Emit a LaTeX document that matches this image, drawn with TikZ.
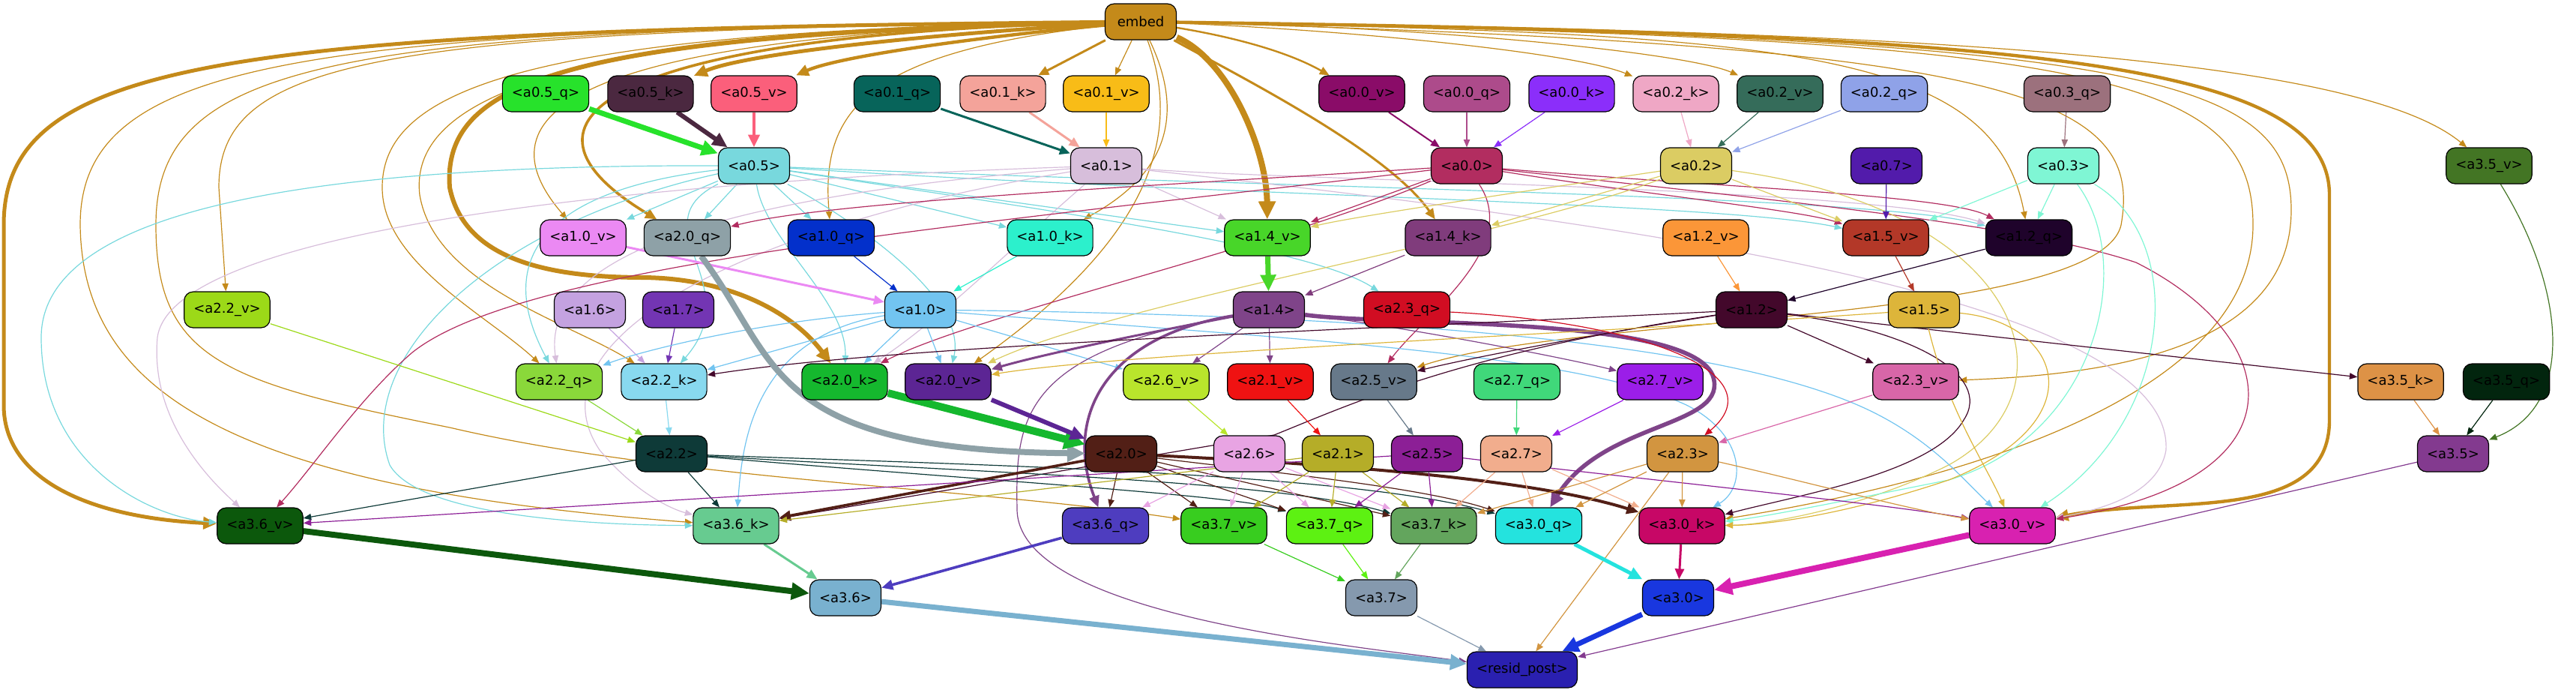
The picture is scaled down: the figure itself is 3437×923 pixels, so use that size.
\documentclass[tikz,border=0pt]{standalone}
\usepackage{fontspec}
\setmainfont{DejaVu Sans}
\usetikzlibrary{arrows.meta}
% Couleurs des noeuds
\definecolor{cembed}{HTML}{C48A1A}
\definecolor{ca05q}{HTML}{27E22B}\definecolor{ca05k}{HTML}{4B2840}\definecolor{ca05v}{HTML}{FB5F7B}
\definecolor{ca01q}{HTML}{07645A}\definecolor{ca01k}{HTML}{F4A39A}\definecolor{ca01v}{HTML}{F8BC17}
\definecolor{ca00v}{HTML}{8A0C68}\definecolor{ca00q}{HTML}{AD4B8B}\definecolor{ca00k}{HTML}{8B2EFA}
\definecolor{ca02k}{HTML}{EFA7C5}\definecolor{ca02v}{HTML}{356C5A}\definecolor{ca02q}{HTML}{8FA2E8}
\definecolor{ca03q}{HTML}{9C717D}
\definecolor{ca05}{HTML}{78D8DD}\definecolor{ca01}{HTML}{D7BEDB}\definecolor{ca00}{HTML}{B22D60}
\definecolor{ca02}{HTML}{DBCC63}\definecolor{ca07}{HTML}{521BAB}\definecolor{ca03}{HTML}{7FF6D4}
\definecolor{ca35v}{HTML}{437524}
\definecolor{ca10v}{HTML}{EB89F3}\definecolor{ca20q}{HTML}{8EA1A7}\definecolor{ca10q}{HTML}{0330CB}
\definecolor{ca10k}{HTML}{2CF0CC}\definecolor{ca14v}{HTML}{48D629}\definecolor{ca14k}{HTML}{803C7C}
\definecolor{ca12v}{HTML}{FB9638}\definecolor{ca15v}{HTML}{B33828}\definecolor{ca12q}{HTML}{1F032B}
\definecolor{ca22v}{HTML}{9CD918}\definecolor{ca16}{HTML}{C4A2E0}\definecolor{ca17}{HTML}{7335B3}
\definecolor{ca10}{HTML}{72C4F0}\definecolor{ca14}{HTML}{7F4489}\definecolor{ca23q}{HTML}{D10D22}
\definecolor{ca12}{HTML}{43082B}\definecolor{ca15}{HTML}{DDB53A}
\definecolor{ca22q}{HTML}{8AD83A}\definecolor{ca22k}{HTML}{88D9EF}\definecolor{ca20k}{HTML}{15B82E}
\definecolor{ca20v}{HTML}{5C2594}\definecolor{ca26v}{HTML}{B9E52C}\definecolor{ca21v}{HTML}{EF1212}
\definecolor{ca25v}{HTML}{67798A}\definecolor{ca27q}{HTML}{40D87A}\definecolor{ca27v}{HTML}{9B1EE8}
\definecolor{ca23v}{HTML}{D866A8}\definecolor{ca35k}{HTML}{DD9246}\definecolor{ca35q}{HTML}{02250E}
\definecolor{ca22}{HTML}{0E3A38}\definecolor{ca20}{HTML}{521F16}\definecolor{ca26}{HTML}{E8A4E3}
\definecolor{ca21}{HTML}{B5AD28}\definecolor{ca25}{HTML}{8C1F96}\definecolor{ca27}{HTML}{F1AD8D}
\definecolor{ca23}{HTML}{D29540}\definecolor{ca35}{HTML}{833A8F}
\definecolor{ca36v}{HTML}{0C580C}\definecolor{ca36k}{HTML}{67CB90}\definecolor{ca36q}{HTML}{4E3DBF}
\definecolor{ca37v}{HTML}{38CD1F}\definecolor{ca37q}{HTML}{5DF112}\definecolor{ca37k}{HTML}{63A55D}
\definecolor{ca30q}{HTML}{24E3DE}\definecolor{ca30k}{HTML}{C70766}\definecolor{ca30v}{HTML}{D821B0}
\definecolor{ca36}{HTML}{79B1CF}\definecolor{ca37}{HTML}{8599AE}\definecolor{ca30}{HTML}{1937DF}
\definecolor{cresid}{HTML}{2A20B0}
\pgfdeclarelayer{fond}
\pgfsetlayers{fond,main}
\begin{document}
\begin{tikzpicture}[x=0.5pt,y=-0.5pt]
	% Styles
	\tikzstyle{noeud}=[draw=black, line width=0.6pt, rounded corners=6pt, minimum height=24pt, minimum width=47.5pt, inner xsep=6.25pt, font=\fontsize{9}{10}\selectfont]
	\tikzstyle{fleche}=[->,>={Triangle[length=4pt 2,width=3pt 2]}]
	\tikzstyle{fin}=[line width=0.6pt]
	\tikzstyle{moyen}=[line width=1.5pt]
	\tikzstyle{epais}=[line width=2.5pt]
	\tikzstyle{tresepais}=[line width=4pt]
	% Dimensions
	\def\DistanceInterNiveaux{96}
	\def\NiveauA{29}
	\def\NiveauB{(29+1*\DistanceInterNiveaux)}
	\def\NiveauC{(29+2*\DistanceInterNiveaux)}
	\def\NiveauD{(29+3*\DistanceInterNiveaux)}
	\def\NiveauE{(29+4*\DistanceInterNiveaux)}
	\def\NiveauF{(29+5*\DistanceInterNiveaux)}
	\def\NiveauG{(29+6*\DistanceInterNiveaux)}
	\def\NiveauH{(29+7*\DistanceInterNiveaux)}
	\def\NiveauI{(29+8*\DistanceInterNiveaux)}
	\def\NiveauJ{(29+9*\DistanceInterNiveaux)}
	\useasboundingbox (0,0) rectangle (3437,923);
	% Noeuds
	\node[noeud, fill=cembed] (embed) at (1522,{\NiveauA}) {embed};
	%
	\node[noeud, fill=ca05q] (a05q) at (728,{\NiveauB}) {<a0.5\_q>};
	\node[noeud, fill=ca05k] (a05k) at (868,{\NiveauB}) {<a0.5\_k>};
	\node[noeud, fill=ca05v] (a05v) at (1006,{\NiveauB}) {<a0.5\_v>};
	\node[noeud, fill=ca01q] (a01q) at (1197,{\NiveauB}) {<a0.1\_q>};
	\node[noeud, fill=ca01k] (a01k) at (1338,{\NiveauB}) {<a0.1\_k>};
	\node[noeud, fill=ca01v] (a01v) at (1476,{\NiveauB}) {<a0.1\_v>};
	\node[noeud, fill=ca00v] (a00v) at (1817,{\NiveauB}) {<a0.0\_v>};
	\node[noeud, fill=ca00q] (a00q) at (1957,{\NiveauB}) {<a0.0\_q>};
	\node[noeud, fill=ca00k] (a00k) at (2097,{\NiveauB}) {<a0.0\_k>};
	\node[noeud, fill=ca02k] (a02k) at (2236,{\NiveauB}) {<a0.2\_k>};
	\node[noeud, fill=ca02v] (a02v) at (2375,{\NiveauB}) {<a0.2\_v>};
	\node[noeud, fill=ca02q] (a02q) at (2514,{\NiveauB}) {<a0.2\_q>};
	\node[noeud, fill=ca03q] (a03q) at (2758,{\NiveauB}) {<a0.3\_q>};
	%
	\node[noeud, fill=ca05] (a05) at (1006,{\NiveauC}) {<a0.5>};
	\node[noeud, fill=ca01] (a01) at (1476,{\NiveauC}) {<a0.1>};
	\node[noeud, fill=ca00] (a00) at (1957,{\NiveauC}) {<a0.0>};
	\node[noeud, fill=ca02] (a02) at (2263,{\NiveauC}) {<a0.2>};
	\node[noeud, fill=ca07] (a07) at (2517,{\NiveauC}) {<a0.7>};
	\node[noeud, fill=ca03] (a03) at (2753,{\NiveauC}) {<a0.3>};
	\node[noeud, fill=ca35v] (a35v) at (3321,{\NiveauC}) {<a3.5\_v>};
	%
	\node[noeud, fill=ca10v] (a10v) at (778,{\NiveauD}) {<a1.0\_v>};
	\node[noeud, fill=ca20q] (a20q) at (917,{\NiveauD}) {<a2.0\_q>};
	\node[noeud, fill=ca10q] (a10q) at (1109,{\NiveauD}) {<a1.0\_q>};
	\node[noeud, fill=ca10k] (a10k) at (1401,{\NiveauD}) {<a1.0\_k>};
	\node[noeud, fill=ca14v] (a14v) at (1691,{\NiveauD}) {<a1.4\_v>};
	\node[noeud, fill=ca14k] (a14k) at (1932,{\NiveauD}) {<a1.4\_k>};
	\node[noeud, fill=ca12v] (a12v) at (2276,{\NiveauD}) {<a1.2\_v>};
	\node[noeud, fill=ca15v] (a15v) at (2516,{\NiveauD}) {<a1.5\_v>};
	\node[noeud, fill=ca12q] (a12q) at (2707,{\NiveauD}) {<a1.2\_q>};
	%
	\node[noeud, fill=ca22v] (a22v) at (303,{\NiveauE}) {<a2.2\_v>};
	\node[noeud, fill=ca16] (a16) at (787,{\NiveauE}) {<a1.6>};
	\node[noeud, fill=ca17] (a17) at (905,{\NiveauE}) {<a1.7>};
	\node[noeud, fill=ca10] (a10) at (1228,{\NiveauE}) {<a1.0>};
	\node[noeud, fill=ca14] (a14) at (1693,{\NiveauE}) {<a1.4>};
	\node[noeud, fill=ca23q] (a23q) at (1877,{\NiveauE}) {<a2.3\_q>};
	\node[noeud, fill=ca12] (a12) at (2337,{\NiveauE}) {<a1.2>};
	\node[noeud, fill=ca15] (a15) at (2567,{\NiveauE}) {<a1.5>};
	%
	\node[noeud, fill=ca22q] (a22q) at (746,{\NiveauF}) {<a2.2\_q>};
	\node[noeud, fill=ca22k] (a22k) at (886,{\NiveauF}) {<a2.2\_k>};
	\node[noeud, fill=ca20k] (a20k) at (1127,{\NiveauF}) {<a2.0\_k>};
	\node[noeud, fill=ca20v] (a20v) at (1265,{\NiveauF}) {<a2.0\_v>};
	\node[noeud, fill=ca26v] (a26v) at (1556,{\NiveauF}) {<a2.6\_v>};
	\node[noeud, fill=ca21v] (a21v) at (1695,{\NiveauF}) {<a2.1\_v>};
	\node[noeud, fill=ca25v] (a25v) at (1833,{\NiveauF}) {<a2.5\_v>};
	\node[noeud, fill=ca27q] (a27q) at (2024,{\NiveauF}) {<a2.7\_q>};
	\node[noeud, fill=ca27v] (a27v) at (2215,{\NiveauF}) {<a2.7\_v>};
	\node[noeud, fill=ca23v] (a23v) at (2556,{\NiveauF}) {<a2.3\_v>};
	\node[noeud, fill=ca35k] (a35k) at (3203,{\NiveauF}) {<a3.5\_k>};
	\node[noeud, fill=ca35q] (a35q) at (3344,{\NiveauF}) {<a3.5\_q>};
	%
	\node[noeud, fill=ca22] (a22) at (896,{\NiveauG}) {<a2.2>};
	\node[noeud, fill=ca20] (a20) at (1496,{\NiveauG}) {<a2.0>};
	\node[noeud, fill=ca26] (a26) at (1667,{\NiveauG}) {<a2.6>};
	\node[noeud, fill=ca21] (a21) at (1785,{\NiveauG}) {<a2.1>};
	\node[noeud, fill=ca25] (a25) at (1904,{\NiveauG}) {<a2.5>};
	\node[noeud, fill=ca27] (a27) at (2023,{\NiveauG}) {<a2.7>};
	\node[noeud, fill=ca23] (a23) at (2245,{\NiveauG}) {<a2.3>};
	\node[noeud, fill=ca35] (a35) at (3273,{\NiveauG}) {<a3.5>};
	%
	\node[noeud, fill=ca36v] (a36v) at (347,{\NiveauH}) {<a3.6\_v>};
	\node[noeud, fill=ca36k] (a36k) at (982,{\NiveauH}) {<a3.6\_k>};
	\node[noeud, fill=ca36q] (a36q) at (1475,{\NiveauH}) {<a3.6\_q>};
	\node[noeud, fill=ca37v] (a37v) at (1633,{\NiveauH}) {<a3.7\_v>};
	\node[noeud, fill=ca37q] (a37q) at (1774,{\NiveauH}) {<a3.7\_q>};
	\node[noeud, fill=ca37k] (a37k) at (1913,{\NiveauH}) {<a3.7\_k>};
	\node[noeud, fill=ca30q] (a30q) at (2053,{\NiveauH}) {<a3.0\_q>};
	\node[noeud, fill=ca30k] (a30k) at (2244,{\NiveauH}) {<a3.0\_k>};
	\node[noeud, fill=ca30v] (a30v) at (2685,{\NiveauH}) {<a3.0\_v>};
	%
	\node[noeud, fill=ca36] (a36) at (1128,{\NiveauI}) {<a3.6>};
	\node[noeud, fill=ca37] (a37) at (1843,{\NiveauI}) {<a3.7>};
	\node[noeud, fill=ca30] (a30) at (2239,{\NiveauI}) {<a3.0>};
	%
	\node[noeud, fill=cresid] (resid) at (2031,{\NiveauJ}) {<resid\_post>};
	% Arcs
	\begin{pgfonlayer}{fond}
	% depuis embed
	\draw[fleche, cembed, epais] (embed) .. controls (300,40) and (5,80) .. (5,300) -- (5,540) .. controls (5,640) and (120,690) .. (a36v);
	\draw[fleche, cembed, epais] (embed) .. controls (1250,45) and (1000,70) .. (a05k);
	\draw[fleche, cembed, line width=2.2pt] (embed) .. controls (1300,50) and (1120,75) .. (a05v);
	\draw[fleche, cembed, moyen] (embed) -- (a01k);
	\draw[fleche, cembed, fin] (embed) -- (a01v);
	\draw[fleche, cembed, tresepais] (embed) .. controls (1640,80) and (1690,200) .. (a14v);
	\draw[fleche, cembed, fin] (embed) .. controls (1580,150) and (1560,230) .. (a10k);
	\draw[fleche, cembed, fin] (embed) .. controls (1150,70) and (1095,150) .. (a10q);
	\draw[fleche, cembed, moyen] (embed) .. controls (1650,100) and (1850,200) .. (a14k);
	\draw[fleche, cembed, line width=1.2pt] (embed) .. controls (1650,50) and (1720,70) .. (a00v);
	\draw[fleche, cembed, fin] (embed) .. controls (1800,40) and (2100,70) .. (a02k);
	\draw[fleche, cembed, fin] (embed) .. controls (1900,35) and (2250,70) .. (a02v);
	\draw[fleche, cembed, fin] (embed) .. controls (2400,45) and (2660,70) .. (a12q);
	\draw[fleche, cembed, fin] (embed) .. controls (2600,40) and (3150,80) .. (a35v);
	\draw[fleche, cembed, line width=2.2pt] (embed) .. controls (2700,45) and (3108,80) .. (3108,260) -- (3108,560) .. controls (3108,700) and (2900,660) .. (a30v);
	\draw[fleche, cembed, fin] (embed) .. controls (2800,50) and (3006,100) .. (3006,300) .. controls (3006,560) and (2500,660) .. (a30k);
	\draw[fleche, cembed, fin] (embed) .. controls (2850,50) and (3057,100) .. (3057,280) .. controls (3057,470) and (2800,500) .. (a23v);
	\draw[fleche, cembed, fin] (embed) .. controls (2700,60) and (2860,130) .. (2830,300) .. controls (2800,430) and (2100,420) .. (a25v);
	\draw[fleche, cembed, fin] (embed) .. controls (1570,160) and (1560,300) .. (a20v);
	\draw[fleche, cembed, fin] (embed) .. controls (500,40) and (292,80) .. (292,250) -- (a22v);
	\draw[fleche, cembed, fin] (embed) .. controls (400,38) and (107,80) .. (107,300) .. controls (110,520) and (300,650) .. (a36k);
	\draw[fleche, cembed, fin] (embed) .. controls (450,38) and (208,80) .. (208,300) .. controls (208,480) and (300,510) .. (600,570) .. controls (900,640) and (1300,650) .. (a37v);
	\draw[fleche, cembed, fin] (embed) .. controls (700,40) and (510,120) .. (510,250) .. controls (510,350) and (650,420) .. (a22q);
	\draw[fleche, cembed, fin] (embed) .. controls (750,40) and (545,130) .. (560,260) .. controls (580,380) and (760,430) .. (a22k);
	\draw[fleche, cembed, fin] (embed) .. controls (800,45) and (625,140) .. (a10v);
	\draw[fleche, cembed, line width=1.8pt] (embed) .. controls (850,45) and (640,150) .. (a20q);
	\draw[fleche, cembed, line width=3pt] (embed) .. controls (750,45) and (590,110) .. (600,250) .. controls (620,350) and (740,370) .. (860,370) .. controls (980,372) and (1060,420) .. (a20k);
	% entrees de la couche 0
	\draw[fleche, ca05q, line width=3.5pt] (a05q) -- (a05);
	\draw[fleche, ca05k, line width=3pt] (a05k) -- (a05);
	\draw[fleche, ca05v, line width=2.2pt] (a05v) -- (a05);
	\draw[fleche, ca01q, moyen] (a01q) -- (a01);
	\draw[fleche, ca01k, moyen] (a01k) -- (a01);
	\draw[fleche, ca01v, fin] (a01v) -- (a01);
	\draw[fleche, ca00v, line width=1pt] (a00v) -- (a00);
	\draw[fleche, ca00q, fin] (a00q) -- (a00);
	\draw[fleche, ca00k, fin] (a00k) -- (a00);
	\draw[fleche, ca02k, fin] (a02k) -- (a02);
	\draw[fleche, ca02v, fin] (a02v) -- (a02);
	\draw[fleche, ca02q, fin] (a02q) -- (a02);
	\draw[fleche, ca03q, fin] (a03q) -- (a03);
	% depuis a0.5
	\draw[fleche, ca05, fin] (a05) -- (a20q);
	\draw[fleche, ca05, fin] (a05) -- (a10q);
	\draw[fleche, ca05, fin] (a05) -- (a10k);
	\draw[fleche, ca05, fin] (a05) -- (a14v);
	\draw[fleche, ca05, fin] (a05) -- (a10v);
	\draw[fleche, ca05, fin] (a05) .. controls (1600,260) and (2300,270) .. (a15v);
	\draw[fleche, ca05, fin] (a05) .. controls (1700,250) and (2500,260) .. (a12q);
	\draw[fleche, ca05, fin] (a05) .. controls (500,220) and (55,260) .. (55,450) .. controls (55,620) and (200,690) .. (a36v);
	\draw[fleche, ca05, fin] (a05) .. controls (750,250) and (650,330) .. (a22q);
	\draw[fleche, ca05, fin] (a05) .. controls (850,300) and (1000,380) .. (a22k);
	\draw[fleche, ca05, fin] (a05) .. controls (1020,320) and (1130,400) .. (a20k);
	\draw[fleche, ca05, fin] (a05) .. controls (1150,300) and (1290,400) .. (a20v);
	\draw[fleche, ca05, fin] (a05) .. controls (650,300) and (470,480) .. (520,620) .. controls (560,690) and (800,700) .. (a36k);
	\draw[fleche, ca05, fin] (a05) .. controls (1400,280) and (1750,330) .. (a23q);
	% depuis a0.1
	\draw[fleche, ca01, fin] (a01) -- (a14v);
	\draw[fleche, ca01, fin] (a01) .. controls (1700,240) and (2500,250) .. (a12q);
	\draw[fleche, ca01, fin] (a01) .. controls (1000,260) and (720,330) .. (a22q);
	\draw[fleche, ca01, fin] (a01) .. controls (900,240) and (230,300) .. (210,450) .. controls (200,560) and (280,640) .. (a36v);
	\draw[fleche, ca01, fin] (a01) .. controls (1000,300) and (700,450) .. (800,600) .. controls (850,660) and (900,680) .. (a36k);
	\draw[fleche, ca01, fin] (a01) .. controls (1350,330) and (1250,430) .. (a20k);
	\draw[fleche, ca01, fin] (a01) .. controls (2200,300) and (2900,400) .. (2890,600) .. controls (2880,660) and (2800,680) .. (a30v);
	% depuis a0.0
	\draw[fleche, ca00, fin] (a00) .. controls (1500,250) and (1100,270) .. (a20q);
	\draw[fleche, ca00, fin] (a00) -- (a14v);
	\draw[fleche, ca00, fin] (a00) .. controls (2200,260) and (2400,280) .. (a15v);
	\draw[fleche, ca00, fin] (a00) .. controls (2300,250) and (2600,260) .. (a12q);
	\draw[fleche, ca00, fin] (a00) .. controls (1300,300) and (700,350) .. (550,470) .. controls (480,530) and (420,620) .. (a36v);
	\draw[fleche, ca00, fin] (a00) .. controls (1700,330) and (1300,420) .. (a20k);
	\draw[fleche, ca00, fin] (a00) .. controls (2030,330) and (1900,420) .. (a25v);
	\draw[fleche, ca00, fin] (a00) .. controls (2400,270) and (2700,300) .. (2850,350) .. controls (3050,450) and (3080,640) .. (a30v);
	% depuis a0.2, a0.7, a0.3
	\draw[fleche, ca02, fin] (a02) .. controls (2000,260) and (1800,290) .. (a14v);
	\draw[fleche, ca02, fin] (a02) -- (a14k);
	\draw[fleche, ca02, fin] (a02) -- (a15v);
	\draw[fleche, ca02, fin] (a02) .. controls (2000,320) and (1500,400) .. (a20v);
	\draw[fleche, ca02, fin] (a02) .. controls (2700,280) and (2780,520) .. (2600,620) .. controls (2480,680) and (2350,700) .. (a30k);
	\draw[fleche, ca07, fin] (a07) -- (a15v);
	\draw[fleche, ca03, fin] (a03) -- (a15v);
	\draw[fleche, ca03, fin] (a03) -- (a12q);
	\draw[fleche, ca03, fin] (a03) .. controls (2920,320) and (2900,560) .. (a30v);
	\draw[fleche, ca03, fin] (a03) .. controls (2850,350) and (2800,580) .. (2600,640) .. controls (2450,670) and (2350,690) .. (a30k);
	% couche 1
	\draw[fleche, ca10v, moyen] (a10v) -- (a10);
	\draw[fleche, ca10q, fin] (a10q) -- (a10);
	\draw[fleche, ca10k, fin] (a10k) -- (a10);
	\draw[fleche, ca14v, line width=3.5pt] (a14v) -- (a14);
	\draw[fleche, ca14k, fin] (a14k) -- (a14);
	\draw[fleche, ca12v, fin] (a12v) -- (a12);
	\draw[fleche, ca12q, fin] (a12q) -- (a12);
	\draw[fleche, ca15v, fin] (a15v) -- (a15);
	\draw[fleche, ca16, fin] (a16) -- (a22k);
	\draw[fleche, ca17, fin] (a17) -- (a22k);
	% depuis a1.0
	\draw[fleche, ca10, fin] (a10) -- (a22k);
	\draw[fleche, ca10, fin] (a10) -- (a20k);
	\draw[fleche, ca10, fin] (a10) -- (a20v);
	\draw[fleche, ca10, fin] (a10) -- (a26v);
	\draw[fleche, ca10, fin] (a10) .. controls (1000,430) and (850,470) .. (a22q);
	\draw[fleche, ca10, fin] (a10) .. controls (1000,450) and (990,600) .. (a36k);
	\draw[fleche, ca10, fin] (a10) .. controls (1700,450) and (2100,470) .. (2250,540) .. controls (2330,580) and (2330,650) .. (a30k);
	\draw[fleche, ca10, fin] (a10) .. controls (1800,420) and (2300,450) .. (2500,550) .. controls (2580,590) and (2620,640) .. (a30v);
	% depuis a1.4
	\draw[fleche, ca14, moyen] (a14) .. controls (1550,440) and (1400,470) .. (a20v);
	\draw[fleche, ca14, fin] (a14) -- (a26v);
	\draw[fleche, ca14, fin] (a14) -- (a21v);
	\draw[fleche, ca14, fin] (a14) .. controls (1900,440) and (2100,480) .. (a27v);
	\draw[fleche, ca14, line width=2.8pt] (a14) .. controls (1850,435) and (2250,420) .. (2285,500) .. controls (2310,570) and (2140,560) .. (a30q);
	\draw[fleche, ca14, line width=1.8pt] (a14) .. controls (1470,450) and (1420,560) .. (a36q);
	\draw[fleche, ca14, fin] (a14) .. controls (1360,470) and (1355,560) .. (1357,680) .. controls (1360,820) and (1800,860) .. (resid);
	% depuis a1.2 et a1.5
	\draw[fleche, ca12, fin] (a12) .. controls (1800,440) and (1200,460) .. (a22k);
	\draw[fleche, ca12, fin] (a12) .. controls (2100,450) and (1950,480) .. (a25v);
	\draw[fleche, ca12, fin] (a12) .. controls (1950,470) and (1800,540) .. (1700,580) -- (a36k);
	\draw[fleche, ca12, fin] (a12) -- (a23v);
	\draw[fleche, ca12, fin] (a12) -- (a35k);
	\draw[fleche, ca12, fin] (a12) .. controls (2550,440) and (2660,500) .. (2620,560) .. controls (2580,630) and (2400,660) .. (a30k);
	\draw[fleche, ca15, fin] (a15) .. controls (2200,440) and (1500,470) .. (a20v);
	\draw[fleche, ca15, fin] (a15) .. controls (2750,430) and (2800,560) .. (2600,640) .. controls (2450,690) and (2350,700) .. (a30k);
	\draw[fleche, ca15, fin] (a15) .. controls (2600,550) and (2650,620) .. (a30v);
	% couche 2 : entrees
	\draw[fleche, ca22v, fin] (a22v) -- (a22);
	\draw[fleche, ca22q, fin] (a22q) -- (a22);
	\draw[fleche, ca22k, fin] (a22k) -- (a22);
	\draw[fleche, ca20q, tresepais] (a20q) .. controls (1040,480) and (1020,600) .. (a20);
	\draw[fleche, ca20k, line width=5pt] (a20k) -- (a20);
	\draw[fleche, ca20v, line width=3pt] (a20v) -- (a20);
	\draw[fleche, ca26v, fin] (a26v) -- (a26);
	\draw[fleche, ca21v, fin] (a21v) -- (a21);
	\draw[fleche, ca25v, fin] (a25v) -- (a25);
	\draw[fleche, ca27q, fin] (a27q) -- (a27);
	\draw[fleche, ca27v, fin] (a27v) -- (a27);
	\draw[fleche, ca23q, fin] (a23q) .. controls (2200,430) and (2370,500) .. (a23);
	\draw[fleche, ca23v, fin] (a23v) -- (a23);
	\draw[fleche, ca35k, fin] (a35k) -- (a35);
	\draw[fleche, ca35q, fin] (a35q) -- (a35);
	\draw[fleche, ca35v, fin] (a35v) .. controls (3420,380) and (3440,540) .. (a35);
	% couche 2 : sorties
	\draw[fleche, ca22, fin] (a22) -- (a36v);
	\draw[fleche, ca22, fin] (a22) -- (a36k);
	\draw[fleche, ca22, fin] (a22) .. controls (1300,630) and (1700,640) .. (a37k);
	\draw[fleche, ca22, fin] (a22) .. controls (1300,620) and (1800,630) .. (a30q);
	\draw[fleche, ca22, fin] (a22) .. controls (1300,640) and (1650,660) .. (a37q);
	\draw[fleche, ca20, line width=2pt] (a20) .. controls (1800,620) and (2050,640) .. (a30k);
	\draw[fleche, ca20, line width=1.8pt] (a20) -- (a36k);
	\draw[fleche, ca20, fin] (a20) -- (a36q);
	\draw[fleche, ca20, fin] (a20) -- (a37v);
	\draw[fleche, ca20, fin] (a20) -- (a37q);
	\draw[fleche, ca20, fin] (a20) -- (a37k);
	\draw[fleche, ca20, fin] (a20) .. controls (1700,630) and (1900,650) .. (a30q);
	\draw[fleche, ca26, fin] (a26) -- (a36q);
	\draw[fleche, ca26, fin] (a26) -- (a37v);
	\draw[fleche, ca26, fin] (a26) -- (a37q);
	\draw[fleche, ca26, fin] (a26) -- (a37k);
	\draw[fleche, ca21, fin] (a21) -- (a36k);
	\draw[fleche, ca21, fin] (a21) -- (a37v);
	\draw[fleche, ca21, fin] (a21) -- (a37q);
	\draw[fleche, ca21, fin] (a21) -- (a37k);
	\draw[fleche, ca25, fin] (a25) -- (a36v);
	\draw[fleche, ca25, fin] (a25) -- (a37q);
	\draw[fleche, ca25, fin] (a25) -- (a37k);
	\draw[fleche, ca25, fin] (a25) .. controls (2200,640) and (2500,670) .. (a30v);
	\draw[fleche, ca27, fin] (a27) -- (a37k);
	\draw[fleche, ca27, fin] (a27) -- (a30q);
	\draw[fleche, ca27, fin] (a27) -- (a30k);
	\draw[fleche, ca23, fin] (a23) -- (a30k);
	\draw[fleche, ca23, fin] (a23) -- (a30q);
	\draw[fleche, ca23, fin] (a23) -- (a37k);
	\draw[fleche, ca23, fin] (a23) -- (resid);
	\draw[fleche, ca23, fin] (a23) .. controls (2400,640) and (2550,680) .. (a30v);
	\draw[fleche, ca35, fin] (a35) -- (resid);
	% couche 3
	\draw[fleche, ca36v, tresepais] (a36v) -- (a36);
	\draw[fleche, ca36k, moyen] (a36k) -- (a36);
	\draw[fleche, ca36q, line width=1.8pt] (a36q) -- (a36);
	\draw[fleche, ca37v, fin] (a37v) -- (a37);
	\draw[fleche, ca37q, fin] (a37q) -- (a37);
	\draw[fleche, ca37k, fin] (a37k) -- (a37);
	\draw[fleche, ca30q, epais] (a30q) -- (a30);
	\draw[fleche, ca30k, moyen] (a30k) -- (a30);
	\draw[fleche, ca30v, tresepais] (a30v) -- (a30);
	\draw[fleche, ca36, line width=3.5pt] (a36) -- (resid);
	\draw[fleche, ca37, fin] (a37) -- (resid);
	\draw[fleche, ca30, line width=3.5pt] (a30) -- (resid);
	\end{pgfonlayer}
\end{tikzpicture}
\end{document}
